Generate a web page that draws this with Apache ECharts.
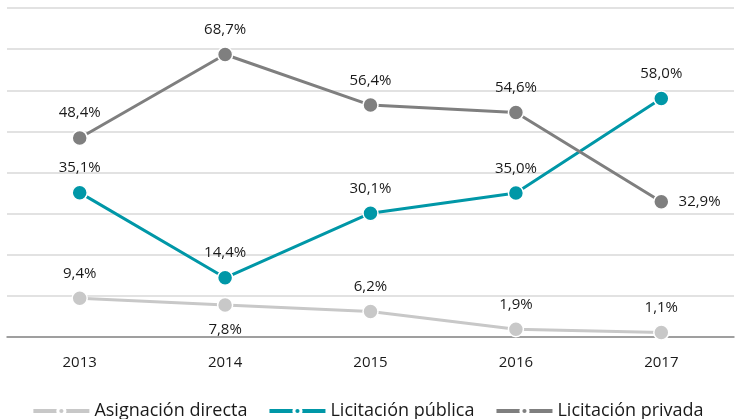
<!DOCTYPE html>
<html>
<head>
<meta charset="utf-8">
<script src="https://cdn.jsdelivr.net/npm/echarts@6/dist/echarts.min.js"></script>
<style>
  html, body { margin: 0; padding: 0; background: #fff; }
  #chart { width: 735px; height: 419px; }
</style>
</head>
<body>
<div id="chart"></div>
<script>
const years = ['2013', '2014', '2015', '2016', '2017']
const asignacionDirecta = [9.4, 7.8, 6.2, 1.9, 1.1]
const licitacionPublica = [35.1, 14.4, 30.1, 35.0, 58.0]
const licitacionPrivada = [48.4, 68.7, 56.4, 54.6, 32.9]

const font = '"Open Sans", sans-serif'
const chart = echarts.init(document.getElementById('chart'))

function makeSeries(name, values, color, labelPos) {
  return {
    name: name,
    type: 'line',
    data: values.map((v, i) => {
      const item = { value: v }
      if (labelPos[i]) item.label = { position: labelPos[i] }
      return item
    }),
    symbol: 'circle',
    symbolSize: 15,
    lineStyle: { color: color, width: 3 },
    itemStyle: { color: color, borderColor: '#fff', borderWidth: 1.5 },
    label: {
      show: true,
      position: 'top',
      distance: 9,
      formatter: p => p.value.toFixed(1).replace('.', ',') + '%',
      color: '#1a1a1a',
      fontSize: 15,
      fontFamily: font
    },
    z: 3
  }
}

const option = {
  animation: false,
  grid: { left: 7, right: 1, top: 8, bottom: 82 },
  legend: {
    top: 397,
    left: 'center',
    itemWidth: 56,
    itemHeight: 9,
    itemGap: 20,
    itemStyle: { borderColor: '#fff', borderWidth: 3 },
    lineStyle: { width: 4 },
    textStyle: { fontSize: 18, color: '#1a1a1a', fontFamily: font }
  },
  xAxis: {
    type: 'category',
    data: years,
    boundaryGap: true,
    axisLine: { lineStyle: { color: '#898989', width: 1.5 } },
    axisTick: { show: false },
    axisLabel: { color: '#1a1a1a', fontSize: 15, fontFamily: font, margin: 18 }
  },
  yAxis: {
    type: 'value',
    min: 0,
    max: 80,
    interval: 10,
    axisLabel: { show: false },
    axisLine: { show: false },
    axisTick: { show: false },
    splitLine: { lineStyle: { color: '#d9d9d9', width: 1.5 } }
  },
  series: [
    makeSeries('Asignación directa', asignacionDirecta, '#c8c8c8', [null, 'bottom', null, null, null]),
    makeSeries('Licitación pública', licitacionPublica, '#0097a7', []),
    makeSeries('Licitación privada', licitacionPrivada, '#7f7f7f', [null, null, null, null, 'right'])
  ]
}
chart.setOption(option)
</script>
</body>
</html>
